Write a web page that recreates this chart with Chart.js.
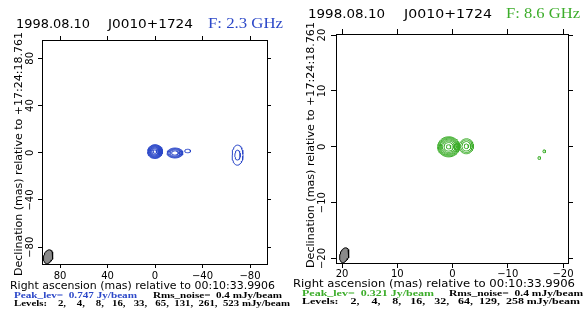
<!DOCTYPE html>
<html>
<head>
<meta charset="utf-8">
<script src="https://cdn.jsdelivr.net/npm/chart.js@4.4.1/dist/chart.umd.min.js"></script>
<style>
  html, body { margin: 0; padding: 0; background: #fff; }
  #wrap { position: relative; width: 583px; height: 314px; overflow: hidden; }
  canvas { position: absolute; top: 0; }
</style>
</head>
<body>
<div id="wrap">
  <canvas id="map23" width="300" height="314" style="left:0px"></canvas>
  <canvas id="map86" width="295" height="314" style="left:288px"></canvas>
</div>
<script>
// contour levels (mJy/beam) as printed under each map
var levels23 = [2, 4, 8, 16, 33, 65, 131, 261, 523];
var levels86 = [2, 4, 8, 16, 32, 64, 129, 258];
var ticks23 = [-80, -40, 0, 40, 80];
var ticks86 = [-20, -10, 0, 10, 20];

// source components: x, y (mas), fwhm x/y (mas), peak (mJy)
var comps23 = [
  { x: 0.0,   y: 1.0,  fx: 4.3, fy: 4.0,  peak: 747 },
  { x: -16.8, y: -0.2, fx: 6.0, fy: 3.8,  peak: 60 },
  { x: -27.5, y: 1.5,  fx: 6.5, fy: 3.9,  peak: 3 },
  { x: -69.5, y: -2.0, fx: 8.0, fy: 14.8, peak: 5 }
];
var comps86 = [
  { x: 0.7,   y: 0.0,  fx: 1.48, fy: 1.33, peak: 321 },
  { x: -2.5,  y: 0.1,  fx: 1.39, fy: 1.47, peak: 20 },
  { x: -16.6, y: -0.8, fx: 0.9,  fy: 0.9,  peak: 2.5 },
  { x: -15.7, y: -2.0, fx: 0.9,  fy: 0.9,  peak: 2.5 }
];

// restoring beams: centre, full axes (mas), tilt (deg)
var beam23 = { x: 90, y: -88, w: 7.6, h: 11.9, tilt: 15 };
var beam86 = { x: 19.6, y: -19.4, w: 1.6, h: 2.7, tilt: 15 };

function ellipse(cx, cy, a, b, tilt) {
  var pts = [];
  var p = tilt * Math.PI / 180;
  for (var i = 0; i <= 60; i++) {
    var t = i / 60 * 2 * Math.PI;
    var u = a * Math.cos(t), v = b * Math.sin(t);
    pts.push({ x: cx + u * Math.cos(p) - v * Math.sin(p), y: cy + u * Math.sin(p) + v * Math.cos(p) });
  }
  return pts;
}

function contourSets(comps, levels, color) {
  var sets = [];
  comps.forEach(function (c) {
    levels.forEach(function (lev) {
      if (lev >= c.peak) return;
      var k = Math.sqrt(2 * Math.log(c.peak / lev)) / 2.3548;
      sets.push({
        data: ellipse(c.x, c.y, c.fx * k, c.fy * k, 0),
        borderColor: color, borderWidth: 1, showLine: true, pointRadius: 0, fill: false
      });
    });
  });
  return sets;
}

function beamSet(b) {
  return {
    data: ellipse(b.x, b.y, b.w / 2, b.h / 2, b.tilt),
    borderColor: '#000', borderWidth: 1, backgroundColor: '#8a8a8a',
    showLine: true, pointRadius: 0, fill: 'shape'
  };
}

function fitText(ctx, s, x, y, width, font, color, rot) {
  ctx.save();
  ctx.font = font;
  ctx.fillStyle = color;
  ctx.textBaseline = 'alphabetic';
  ctx.textAlign = 'left';
  var w0 = ctx.measureText(s).width;
  ctx.translate(x, y);
  if (rot) ctx.rotate(rot);
  ctx.scale(width / w0, 1);
  ctx.fillText(s, 0, 0);
  ctx.restore();
}

function label(v) {
  return v < 0 ? '\u2212' + Math.abs(v) : String(v);
}

function makeMap(id, cfg) {
  var fixedTicks = function (vals) {
    return function (scale) { scale.ticks = vals.map(function (v) { return { value: v }; }); };
  };
  var axis = function (pos, min, max, size, rev) {
    return {
      type: 'linear', position: pos, min: min, max: max, reverse: !!rev,
      afterBuildTicks: fixedTicks(cfg.ticks),
      afterFit: function (s) { if (pos === 'left' || pos === 'right') s.width = size; else s.height = size; },
      ticks: { display: false },
      grid: { drawOnChartArea: false, drawTicks: true, tickLength: cfg.tickLen, color: '#000', lineWidth: 1 },
      border: { display: true, color: '#000', width: 1 }
    };
  };
  var textPlugin = {
    id: 'maptext',
    afterDraw: function (chart) {
      var ctx = chart.ctx, o = cfg.off;
      var xs = chart.scales.x, ys = chart.scales.y;
      fitText(ctx, '1998.08.10', cfg.t1[0] - o, cfg.tb, cfg.t1[1], '13px "DejaVu Sans"', '#000');
      fitText(ctx, 'J0010+1724', cfg.t2[0] - o, cfg.tb, cfg.t2[1], '13px "DejaVu Sans"', '#000');
      fitText(ctx, cfg.freq, cfg.t3[0] - o, cfg.tb, cfg.t3[1], '15px "Liberation Serif"', cfg.color);
      ctx.save();
      ctx.font = '10px "DejaVu Sans"';
      ctx.fillStyle = '#000';
      ctx.textAlign = 'center';
      cfg.ticks.forEach(function (v) {
        ctx.textBaseline = 'alphabetic';
        ctx.fillText(label(v), xs.getPixelForValue(v), cfg.xtb);
        ctx.save();
        ctx.translate(cfg.ytx - o, ys.getPixelForValue(v));
        ctx.rotate(-Math.PI / 2);
        ctx.textBaseline = 'middle';
        ctx.fillText(label(v), 0, 0);
        ctx.restore();
      });
      ctx.restore();
      fitText(ctx, 'Right ascension (mas) relative to 00:10:33.9906', cfg.ra[0] - o, cfg.ra[2], cfg.ra[1], '10px "DejaVu Sans"', '#000');
      fitText(ctx, 'Declination (mas) relative to +17:24:18.761', cfg.dec[0] - o, cfg.dec[1], cfg.dec[2], '10px "DejaVu Sans"', '#000', -Math.PI / 2);
      fitText(ctx, cfg.peak, cfg.pk[0] - o, cfg.pk[2], cfg.pk[1], 'bold 9px "Liberation Serif"', cfg.color);
      fitText(ctx, 'Rms_noise=  0.4 mJy/beam', cfg.rms[0] - o, cfg.pk[2], cfg.rms[1], 'bold 9px "Liberation Serif"', '#000');
      fitText(ctx, cfg.lev, cfg.pk[0] - o, cfg.lvb, cfg.lvw, 'bold 9px "Liberation Serif"', '#000');
    }
  };
  return new Chart(document.getElementById(id), {
    type: 'scatter',
    data: { datasets: contourSets(cfg.comps, cfg.levels, cfg.color).concat([beamSet(cfg.beam)]) },
    options: {
      responsive: false, animation: false, devicePixelRatio: 1,
      layout: { padding: 0 },
      plugins: { legend: { display: false }, tooltip: { enabled: false } },
      elements: { line: { tension: 0 } },
      scales: {
        x: axis('bottom', cfg.xr[1], cfg.xr[0], cfg.sz[3], true),
        x2: axis('top', cfg.xr[1], cfg.xr[0], cfg.sz[2], true),
        y: axis('left', cfg.yr[0], cfg.yr[1], cfg.sz[0]),
        y2: axis('right', cfg.yr[0], cfg.yr[1], cfg.sz[1])
      }
    },
    plugins: [textPlugin]
  });
}

makeMap('map23', {
  off: 0, comps: comps23, levels: levels23, ticks: ticks23, beam: beam23, color: '#2c48c8',
  xr: [-94.3, 95.2], yr: [-94.2, 95.5], sz: [42, 33, 40, 50], tickLen: 4,
  freq: 'F: 2.3 GHz', tb: 28, t1: [16, 74], t2: [108, 85], t3: [208, 75],
  xtb: 279, ytx: 30, ra: [10, 265, 289], dec: [22, 276, 244],
  peak: 'Peak_lev=  0.747 Jy/beam', pk: [14, 123, 298], rms: [153, 129],
  lev: 'Levels:    2,    4,    8,   16,   33,   65,  131,  261,  523 mJy/beam', lvb: 306, lvw: 276
});

makeMap('map86', {
  off: 288, comps: comps86, levels: levels86, ticks: ticks86, beam: beam86, color: '#3cad2a',
  xr: [-20.9, 21.1], yr: [-20.8, 20.2], sz: [48, 15, 34, 51], tickLen: 5,
  freq: 'F: 8.6 GHz', tb: 18, t1: [308, 77], t2: [404, 88], t3: [506, 74],
  xtb: 277, ytx: 322, ra: [293, 282, 287], dec: [314, 268, 246],
  peak: 'Peak_lev=  0.321 Jy/beam', pk: [302, 132, 296], rms: [449, 134],
  lev: 'Levels:    2,    4,    8,   16,   32,   64,  129,  258 mJy/beam', lvb: 304, lvw: 278
});
</script>
</body>
</html>
